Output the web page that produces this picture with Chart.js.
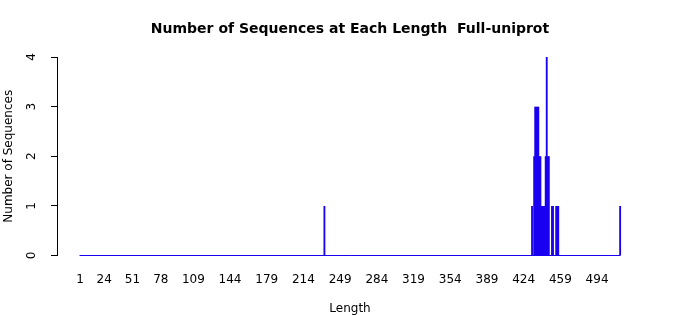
<!DOCTYPE html>
<html><head><meta charset="utf-8">
<script src="https://cdn.jsdelivr.net/npm/chart.js@4/dist/chart.umd.min.js"></script>
<style>html,body{margin:0;padding:0;background:#fff}canvas{display:block}</style>
</head><body>
<canvas id="c" width="700" height="315"></canvas>
<script>
const chartTitle = 'Number of Sequences at Each Length  Full-uniprot';
const xTitle = 'Length';
const yTitle = 'Number of Sequences';
const minLength = 1;
const maxLength = 516;
const lengths = [234, 432, 434, 435, 436, 437, 438, 439, 440, 441, 442, 443, 444, 445, 446, 447, 448, 451, 452, 455, 456, 457, 516];
const counts  = [1,   1,   2,   3,   3,   3,   3,   2,   2,   1,   1,   1,   1,   2,   4,   2,   2,   1,   1,   1,   1,   1,   1];
const xTickLabels = [1, 24, 51, 78, 109, 144, 179, 214, 249, 284, 319, 354, 389, 424, 459, 494];
const yTickLabels = [0, 1, 2, 3, 4];

const barColor = '#1a00f0';

const countByLength = {};
lengths.forEach((l, i) => { countByLength[l] = counts[i]; });
const barData = [];
for (let l = minLength; l <= maxLength; l++) {
  barData.push({ x: l, y: countByLength[l] || 0 });
}
const baseData = [{ x: minLength - 0.5, y: 0 }, { x: maxLength + 0.5, y: 0 }];

Chart.defaults.font.family = "'DejaVu Sans', sans-serif";
Chart.defaults.color = '#000';

const yLabelPlugin = {
  id: 'yLabels',
  afterDraw(chart) {
    const s = chart.scales.y;
    const ctx = chart.ctx;
    ctx.save();
    ctx.font = "12px 'DejaVu Sans'";
    ctx.fillStyle = '#000';
    ctx.textAlign = 'center';
    ctx.textBaseline = 'middle';
    yTickLabels.forEach(v => {
      const py = s.getPixelForValue(v);
      ctx.save();
      ctx.translate(32, py);
      ctx.rotate(-Math.PI / 2);
      ctx.fillText(String(v), 0, 0);
      ctx.restore();
    });
    ctx.restore();
  }
};

new Chart(document.getElementById('c'), {
  type: 'bar',
  data: {
    datasets: [
      {
        type: 'line',
        data: baseData,
        borderColor: barColor,
        borderWidth: 1,
        pointRadius: 0,
        clip: false,
        order: 1
      },
      {
        type: 'bar',
        data: barData,
        backgroundColor: barColor,
        borderWidth: 0,
        categoryPercentage: 1,
        barPercentage: 1.75,
        order: 0
      }
    ]
  },
  options: {
    responsive: false,
    animation: false,
    layout: { padding: { left: 0, right: 0, top: 0, bottom: 0 } },
    plugins: {
      legend: { display: false },
      tooltip: { enabled: false },
      title: {
        display: true,
        text: chartTitle,
        color: '#000',
        font: { size: 14, weight: 'bold' },
        padding: { top: 20.6, bottom: 19.6 }
      }
    },
    scales: {
      x: {
        type: 'linear',
        offset: false,
        min: -21,
        max: 537.8,
        border: { display: false },
        grid: { display: false, drawTicks: false, offset: false },
        ticks: {
          autoSkip: false,
          maxRotation: 0,
          minRotation: 0,
          padding: 17.5,
          font: { size: 12 },
          color: '#000'
        },
        afterBuildTicks(s) { s.ticks = xTickLabels.map(v => ({ value: v })); },
        afterFit(s) { s.height = 59.5; },
        title: {
          display: true,
          text: xTitle,
          color: '#000',
          font: { size: 12 },
          padding: { top: 0, bottom: -1.5 }
        }
      },
      y: {
        min: 0,
        max: 4,
        border: { display: true, color: '#000', width: 1 },
        grid: { drawOnChartArea: false, drawTicks: true, tickLength: 6, tickColor: '#000' },
        ticks: { stepSize: 1, display: false },
        afterBuildTicks(s) { s.ticks = yTickLabels.map(v => ({ value: v })); },
        afterFit(s) { s.width = 57; },
        title: {
          display: true,
          text: yTitle,
          color: '#000',
          font: { size: 12 },
          padding: { top: 2, bottom: 0 }
        }
      },
      yRight: {
        position: 'right',
        display: true,
        min: 0,
        max: 4,
        border: { display: false },
        grid: { display: false },
        ticks: { display: false },
        afterFit(s) { s.width = 57; }
      }
    }
  },
  plugins: [yLabelPlugin]
});
</script>
</body></html>
